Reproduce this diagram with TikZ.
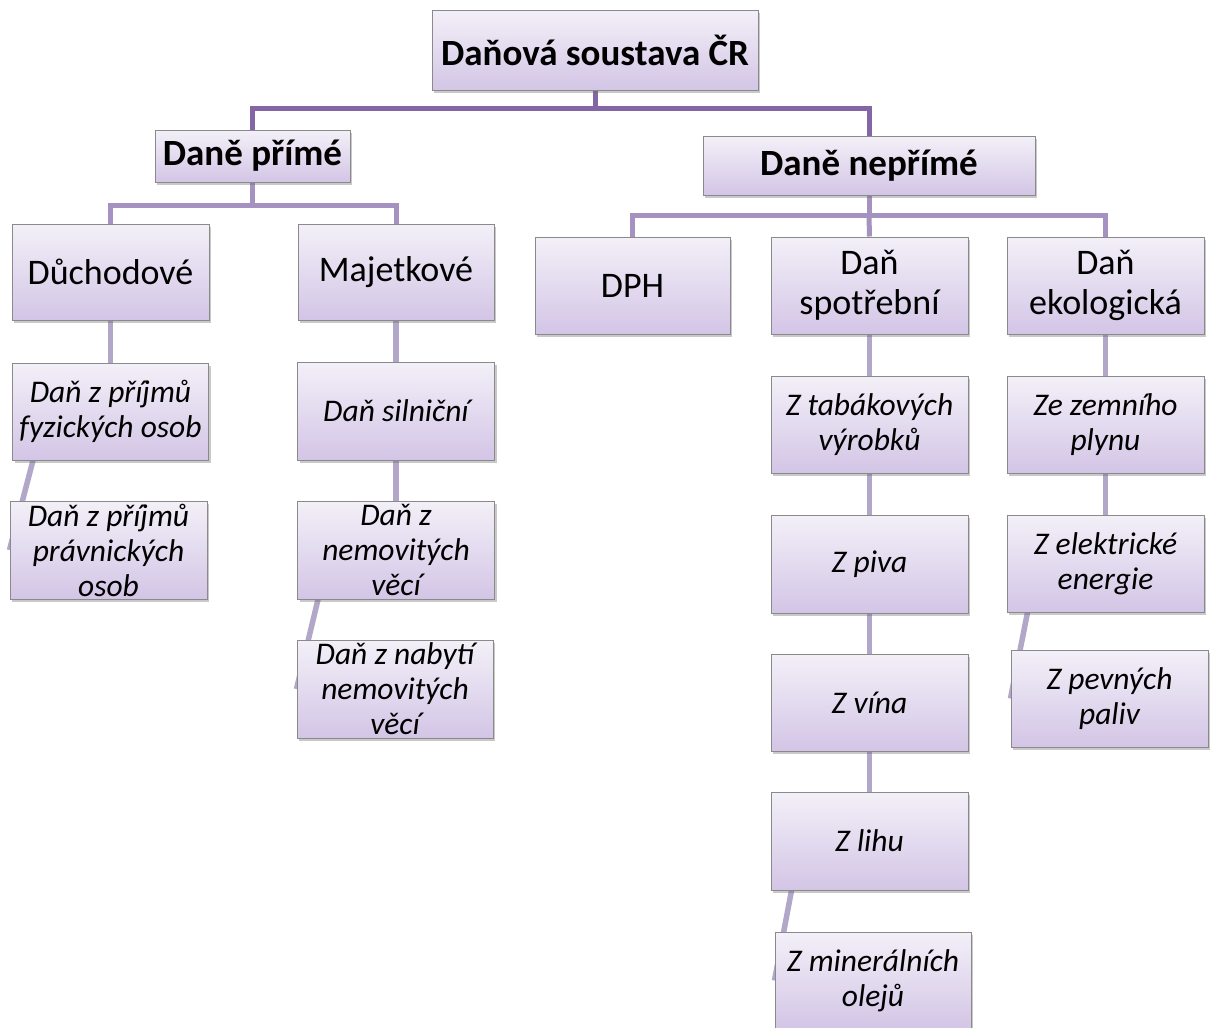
\documentclass[tikz,border=0pt]{standalone}
\usepackage{fontspec}
\setmainfont{Carlito}
\usetikzlibrary{shadows,backgrounds}
\definecolor{boxtop}{HTML}{F3F0F8}
\definecolor{boxbot}{HTML}{D3C5E6}
\definecolor{boxline}{HTML}{8A8A8A}
\definecolor{lineA}{HTML}{8366A6}
\definecolor{lineB}{HTML}{A592C0}
\definecolor{lineC}{HTML}{B2A6C9}
\tikzset{
  box/.style={draw=boxline, line width=1pt, top color=boxtop, bottom color=boxbot,
    align=center, inner sep=0pt, text=black,
    drop shadow={shadow xshift=2pt, shadow yshift=-3pt, opacity=0.35, fill=black!60}},
  bbox/.style={box, font=\fontsize{37}{40}\selectfont\bfseries},
  rbox/.style={box, font=\fontsize{36}{40}\selectfont},
  ibox/.style={box, font=\fontsize{31.5}{35}\selectfont\itshape},
  conA/.style={draw=lineA, line width=5pt},
  conB/.style={draw=lineB, line width=5pt},
  conC/.style={draw=lineC, line width=5.5pt},
}
\begin{document}
\begin{tikzpicture}[x=1pt,y=1pt]
\useasboundingbox (0,0) rectangle (1211,-1028);
% level 0/1
\node[bbox, minimum width=326pt, minimum height=80pt] (root) at (595,-50) {Daňová soustava ČR};
\node[bbox, minimum width=195pt, minimum height=52pt] (prime) at (252.5,-156) {Daně přímé};
\node[bbox, minimum width=332pt, minimum height=59pt] (neprime) at (869,-165.5) {Daně nepřímé};
% level 2
\node[rbox, minimum width=197pt, minimum height=96pt] (duch) at (110.5,-272) {Důchodové};
\node[rbox, minimum width=196pt, minimum height=96pt] (majet) at (396,-272) {Majetkové};
\node[rbox, minimum width=195pt, minimum height=97pt] (dph) at (632.5,-285.5) {DPH};
\node[rbox, minimum width=197pt, minimum height=97pt] (spotr) at (869.5,-285.5) {Daň\\spotřební};
\node[rbox, minimum width=197pt, minimum height=97pt] (ekol) at (1105.5,-285.5) {Daň\\ekologická};
% level 3
\node[ibox, minimum width=196pt, minimum height=97pt] (fyz) at (110.5,-411.5) {Daň z příjmů\\fyzických osob};
\node[ibox, minimum width=197pt, minimum height=98pt] (prav) at (108.5,-550) {Daň z příjmů\\právnických\\osob};
\node[ibox, minimum width=197pt, minimum height=98pt] (silnic) at (396,-411) {Daň silniční};
\node[ibox, minimum width=197pt, minimum height=98pt] (nemov) at (396,-550) {Daň z\\nemovitých\\věcí};
\node[ibox, minimum width=196pt, minimum height=98pt] (nabyti) at (395,-689) {Daň z nabytí\\nemovitých\\věcí};
\node[ibox, minimum width=197pt, minimum height=97pt] (tabak) at (869.5,-424.5) {Z tabákových\\výrobků};
\node[ibox, minimum width=197pt, minimum height=98pt] (piva) at (869.5,-564) {Z piva};
\node[ibox, minimum width=197pt, minimum height=97pt] (vina) at (869.5,-702.5) {Z vína};
\node[ibox, minimum width=197pt, minimum height=98pt] (lihu) at (869.5,-841) {Z lihu};
\node[ibox, minimum width=196pt, minimum height=97pt] (miner) at (873,-980.5) {Z minerálních\\olejů};
\node[ibox, minimum width=197pt, minimum height=97pt] (zemni) at (1105.5,-424.5) {Ze zemního\\plynu};
\node[ibox, minimum width=197pt, minimum height=97pt] (elektr) at (1105.5,-563.5) {Z elektrické\\energie};
\node[ibox, minimum width=197pt, minimum height=97pt] (pevny) at (1109.5,-698.5) {Z pevných\\paliv};
\begin{scope}[on background layer]
\fill[white] (0,0) rectangle (1211,-1028);
% top tree
\draw[conA] (root.south) -- ++(0,-18) coordinate (rj);
\draw[conA] (prime.north) |- (rj) -| (neprime.north);
% second level
\draw[conB] (prime.south) -- ++(0,-23) coordinate (pj);
\draw[conB] (duch.north) |- (pj) -| (majet.north);
\draw[conB] (neprime.south) -- ++(0,-20) coordinate (nj);
\draw[conB] (dph.north) |- (nj) -| (ekol.north);
\draw[conB] (nj) -- (spotr.north);
% vertical chains
\draw[conC] (duch.south) -- (fyz.north);
\draw[conC] (majet.south) -- (silnic.north);
\draw[conC] (silnic.south) -- (nemov.north);
\draw[conC] (spotr.south) -- (tabak.north);
\draw[conC] (tabak.south) -- (piva.north);
\draw[conC] (piva.south) -- (vina.north);
\draw[conC] (vina.south) -- (lihu.north);
\draw[conC] (ekol.south) -- (zemni.north);
\draw[conC] (zemni.south) -- (elektr.north);
% slanted
\draw[conC] ([xshift=21pt]fyz.south west) -- (prav.west);
\draw[conC] ([xshift=21pt]nemov.south west) -- (nabyti.west);
\draw[conC] ([xshift=21pt]lihu.south west) -- (miner.west);
\draw[conC] ([xshift=21pt]elektr.south west) -- (pevny.west);
\end{scope}
\end{tikzpicture}
\end{document}
